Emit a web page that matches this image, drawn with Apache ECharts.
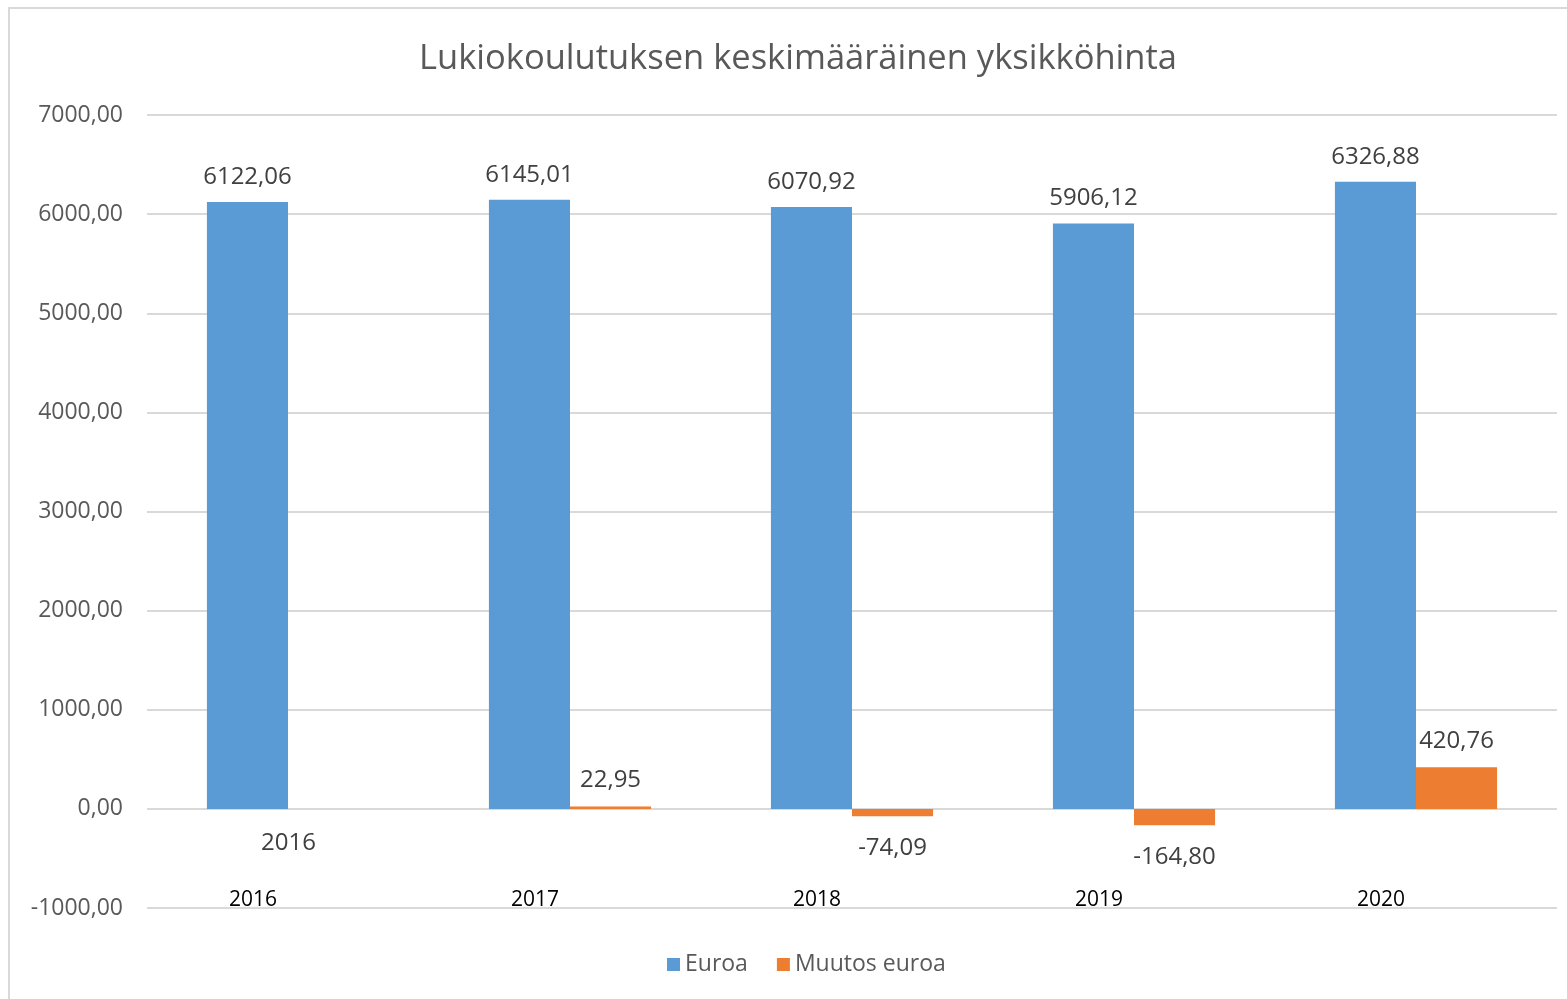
<!DOCTYPE html>
<html>
<head>
<meta charset="utf-8">
<title>Lukiokoulutuksen keskimääräinen yksikköhinta</title>
<script src="https://cdn.jsdelivr.net/npm/echarts@6/dist/echarts.min.js"></script>
<style>
html, body { margin: 0; padding: 0; background: #fff; }
#main { width: 1567px; height: 999px; }
</style>
</head>
<body>
<div id="main"></div>
<script>
// data
var years = ['2016', '2017', '2018', '2019', '2020'];
var euroa = [6122.06, 6145.01, 6070.92, 5906.12, 6326.88];
var muutosEuroa = [0, 22.95, -74.09, -164.80, 420.76];
var muutosLabels = ['2016', null, null, null, null]; // odd label left in the original for 2016
var yTicks = { min: -1000, max: 7000, interval: 1000 };

function fmt(v) {
    return Number(v).toFixed(2).replace('.', ',');
}

var font = 'Open Sans';
var myChart = echarts.init(document.getElementById('main'));

var muutosData = muutosEuroa.map(function (v, i) {
    var down = v < 0 || !!muutosLabels[i];
    var item = { value: v, label: { position: down ? 'bottom' : 'top', distance: down ? 20 : 14 } };
    if (muutosLabels[i]) {
        item.label.formatter = muutosLabels[i];
        item.label.offset = [-40, 2];
    }
    return item;
});

var option = {
    textStyle: { fontFamily: font },
    graphic: [{
        type: 'rect',
        shape: { x: 9, y: 8, width: 1600, height: 1000 },
        style: { fill: 'none', stroke: '#d9d9d9', lineWidth: 2 },
        silent: true
    }],
    title: {
        text: 'Lukiokoulutuksen keskimääräinen yksikköhinta',
        left: 419,
        top: 42,
        padding: 0,
        textStyle: { fontFamily: font, fontSize: 34.5, fontWeight: 'normal', color: '#595959' }
    },
    legend: {
        data: ['Euroa', 'Muutos euroa'],
        top: 953,
        left: 667,
        padding: 0,
        icon: 'rect',
        itemWidth: 13,
        itemHeight: 13,
        itemGap: 29,
        textStyle: { fontFamily: font, fontSize: 23, color: '#595959' }
    },
    grid: { left: 147, right: 10, top: 115, bottom: 91 },
    xAxis: {
        type: 'category',
        data: years,
        axisLine: { show: false, onZero: false },
        axisTick: { show: false },
        axisLabel: {
            margin: -18,
            padding: [0, 70, 0, 0],
            color: '#000',
            fontFamily: font,
            fontSize: 21
        }
    },
    yAxis: {
        type: 'value',
        min: yTicks.min,
        max: yTicks.max,
        interval: yTicks.interval,
        axisLine: { show: false },
        axisTick: { show: false },
        axisLabel: {
            margin: 24,
            color: '#595959',
            fontFamily: font,
            fontSize: 23,
            formatter: fmt
        },
        splitLine: { lineStyle: { color: '#d9d9d9', width: 2 } }
    },
    series: [
        {
            name: 'Euroa',
            type: 'bar',
            data: euroa,
            barGap: '0%',
            barCategoryGap: '42.5%',
            itemStyle: { color: '#5b9bd5' },
            label: {
                show: true,
                position: 'top',
                distance: 13,
                color: '#404040',
                fontFamily: font,
                fontSize: 24,
                formatter: function (p) { return fmt(p.value); }
            }
        },
        {
            name: 'Muutos euroa',
            type: 'bar',
            data: muutosData,
            barGap: '0%',
            barCategoryGap: '42.5%',
            itemStyle: { color: '#ed7d31' },
            label: {
                show: true,
                color: '#404040',
                fontFamily: font,
                fontSize: 24,
                formatter: function (p) { return fmt(p.value); }
            }
        }
    ]
};

myChart.setOption(option);
</script>
</body>
</html>
